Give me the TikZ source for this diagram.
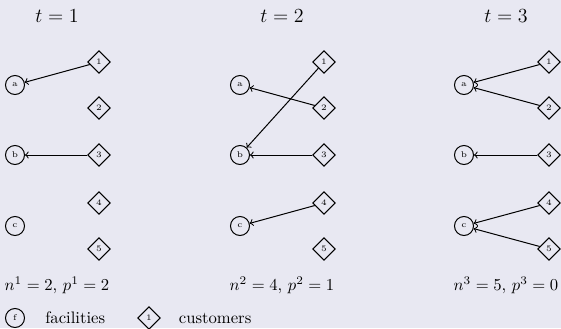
\documentclass[tikz,border=0pt]{standalone}
\usepackage{amsmath}
\usepackage{tikz}
\usetikzlibrary{positioning,arrows,shapes}

\definecolor{bgcol}{RGB}{232,232,242}

\begin{document}
\begin{tikzpicture}[
  x=0.6pt,y=-0.6pt,
  facility/.style={circle,draw,semithick,inner sep=0pt,minimum size=11.4pt,font=\tiny},
  customer/.style={diamond,draw,semithick,inner sep=0pt,minimum size=13.6pt,font=\tiny},
  assign/.style={->,>=to,semithick},
  period/.style={font=\large},
  summary/.style={font=\normalsize},
]
\fill[bgcol] (0,0) rectangle (561,328);
\useasboundingbox (0,0) rectangle (561,328);

% Period t=1
\node[period] (t1) at (57,16) {$t=1$};
\node[facility] (a1) at (15,85) {a};
\node[facility] (b1) at (15,155) {b};
\node[facility] (c1) at (15,226) {c};
\node[customer] (k11) at (99,62) {1};
\node[customer] (k12) at (99,108) {2};
\node[customer] (k13) at (99,155) {3};
\node[customer] (k14) at (99,203) {4};
\node[customer] (k15) at (99,249) {5};
\draw[assign] (k11) -- (a1);
\draw[assign] (k13) -- (b1);
\node[summary] (s1) at (57,285) {$n^1=2$, $p^1=2$};

% Period t=2
\node[period] (t2) at (282,16) {$t=2$};
\node[facility] (a2) at (240,85) {a};
\node[facility] (b2) at (240,155) {b};
\node[facility] (c2) at (240,226) {c};
\node[customer] (k21) at (324,62) {1};
\node[customer] (k22) at (324,108) {2};
\node[customer] (k23) at (324,155) {3};
\node[customer] (k24) at (324,203) {4};
\node[customer] (k25) at (324,249) {5};
\draw[assign] (k22) -- (a2);
\draw[assign] (k21) -- (b2);
\draw[assign] (k23) -- (b2);
\draw[assign] (k24) -- (c2);
\node[summary] (s2) at (282,285) {$n^2=4$, $p^2=1$};

% Period t=3
\node[period] (t3) at (506,16) {$t=3$};
\node[facility] (a3) at (464,85) {a};
\node[facility] (b3) at (464,155) {b};
\node[facility] (c3) at (464,226) {c};
\node[customer] (k31) at (549,62) {1};
\node[customer] (k32) at (549,108) {2};
\node[customer] (k33) at (549,155) {3};
\node[customer] (k34) at (549,203) {4};
\node[customer] (k35) at (549,249) {5};
\draw[assign] (k31) -- (a3);
\draw[assign] (k32) -- (a3);
\draw[assign] (k33) -- (b3);
\draw[assign] (k34) -- (c3);
\draw[assign] (k35) -- (c3);
\node[summary] (s3) at (506,285) {$n^3=5$, $p^3=0$};

% Legend
\node[facility] (lf) at (15,318) {f};
\node[right=8.7pt of lf] (lftext) {facilities};
\node[customer] (lk) at (149,318) {1};
\node[right=7.3pt of lk] (lktext) {customers};

\end{tikzpicture}
\end{document}
